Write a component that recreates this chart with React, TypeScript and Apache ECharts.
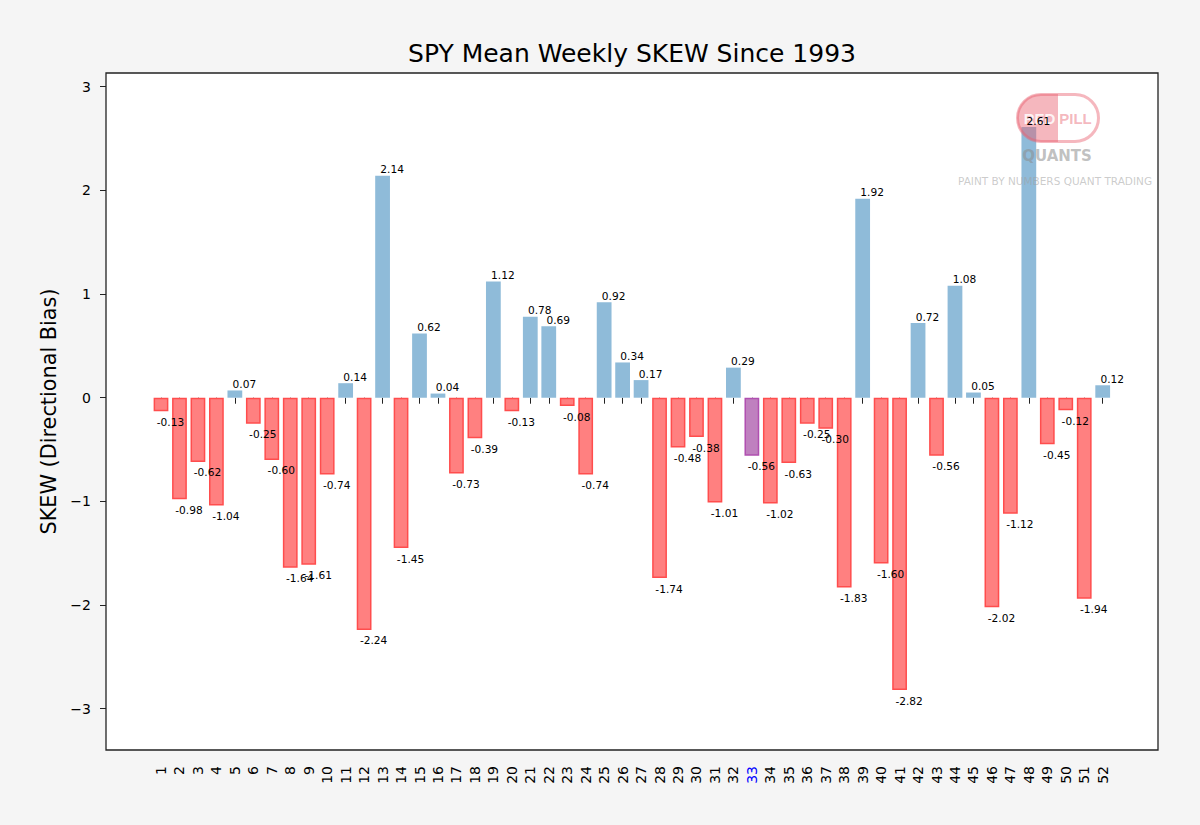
import React, { useEffect, useRef } from "react";
import * as echarts from "echarts";

const weeks = [
  "1", "2", "3", "4", "5", "6", "7", "8", "9", "10", "11", "12", "13",
  "14", "15", "16", "17", "18", "19", "20", "21", "22", "23", "24", "25", "26",
  "27", "28", "29", "30", "31", "32", "33", "34", "35", "36", "37", "38", "39",
  "40", "41", "42", "43", "44", "45", "46", "47", "48", "49", "50", "51", "52",
];
const skew = [
  -0.13, -0.98, -0.62, -1.04, 0.07, -0.25, -0.6, -1.64, -1.61, -0.74, 0.14, -2.24, 2.14,
  -1.45, 0.62, 0.04, -0.73, -0.39, 1.12, -0.13, 0.78, 0.69, -0.08, -0.74, 0.92, 0.34,
  0.17, -1.74, -0.48, -0.38, -1.01, 0.29, -0.56, -1.02, -0.63, -0.25, -0.3, -1.83, 1.92,
  -1.6, -2.82, 0.72, -0.56, 1.08, 0.05, -2.02, -1.12, 2.61, -0.45, -0.12, -1.94, 0.12,
];
const highlightWeek = "33";
const yTicks = [-3, -2, -1, 0, 1, 2, 3];
const yMin = -3.398;
const yMax = 3.132;

const FONT = "DejaVu Sans";

export default function App() {
  const ref = useRef<HTMLDivElement>(null);
  useEffect(() => {
    document.body.style.margin = "0";
    const chart = echarts.init(ref.current!, null, { renderer: "svg" });

    const barData = skew.map((v, i) => {
      const isHi = weeks[i] === highlightWeek;
      if (isHi) {
        return {
          value: v,
          itemStyle: { color: "#bf80bf", borderColor: "#b04fb0", borderWidth: 1.5 },
        };
      }
      if (v < 0) {
        return {
          value: v,
          itemStyle: { color: "#ff8080", borderColor: "#ff4d4d", borderWidth: 1.5 },
        };
      }
      return { value: v, itemStyle: { color: "#8fbbd9", borderWidth: 0 } };
    });

    const labelData = skew.map((v) => ({
      value: v,
      label: {
        position: v >= 0 ? "top" : "bottom",
        distance: v >= 0 ? 1 : 5,
      },
    }));

    const pink = "#e8606e";

    chart.setOption({
      animation: false,
      backgroundColor: "#f5f5f5",
      grid: { left: 151.77, right: 88.07, top: 73, bottom: 75 },
      xAxis: {
        type: "category",
        data: weeks.map((w) =>
          w === highlightWeek ? { value: w, textStyle: { color: "#0000ff" } } : w
        ),
        axisLine: { show: false },
        axisTick: {
          show: true,
          alignWithLabel: true,
          length: 6,
          lineStyle: { color: "#222", width: 1 },
        },
        axisLabel: {
          rotate: 90,
          fontSize: 14,
          color: "#000",
          margin: 16,
          fontFamily: FONT,
          interval: 0,
        },
        splitLine: { show: false },
      },
      yAxis: {
        type: "value",
        min: yMin,
        max: yMax,
        offset: 45.77,
        axisLine: { show: false },
        axisTick: {
          show: true,
          length: 6,
          customValues: yTicks,
          lineStyle: { color: "#222", width: 1 },
        },
        axisLabel: {
          customValues: yTicks,
          fontSize: 14,
          color: "#000",
          margin: 15,
          fontFamily: FONT,
          formatter: (v: number) => (v < 0 ? "\u2212" + Math.abs(v) : String(v)),
        },
        splitLine: { show: false },
        name: "SKEW (Directional Bias)",
        nameLocation: "middle",
        nameGap: 45,
        nameTextStyle: { fontSize: 20.8, color: "#000", fontFamily: FONT },
      },
      series: [
        {
          type: "bar",
          data: barData,
          barWidth: "80%",
          z: 2,
        },
        {
          type: "bar",
          data: labelData,
          barWidth: "80%",
          barGap: "-100%",
          z: 8,
          itemStyle: { color: "rgba(0,0,0,0)" },
          label: {
            show: true,
            color: "#000",
            fontSize: 10.6,
            fontFamily: FONT,
            offset: [9.5, 0],
            formatter: (p: any) => Number(p.value).toFixed(2),
          },
        },
      ],
      graphic: {
        elements: [
          {
            type: "rect",
            z: 0,
            silent: true,
            shape: { x: 106, y: 73, width: 1052, height: 677 },
            style: { fill: "#ffffff" },
          },
          {
            type: "rect",
            z: 10,
            silent: true,
            shape: { x: 106, y: 73, width: 1052, height: 677 },
            style: { fill: "none", stroke: "#222", lineWidth: 1.3 },
          },
          {
            type: "text",
            z: 10,
            x: 632,
            y: 53,
            style: {
              text: "SPY Mean Weekly SKEW Since 1993",
              fontSize: 25,
              fontFamily: FONT,
              fill: "#000",
              align: "center",
              verticalAlign: "middle",
            },
          },
          // logo watermark
          {
            type: "rect",
            z: 5,
            silent: true,
            shape: { x: 1017, y: 94, width: 41, height: 48, r: [24, 0, 0, 24] },
            style: { fill: pink, opacity: 0.45 },
          },
          {
            type: "rect",
            z: 5,
            silent: true,
            shape: { x: 1017.5, y: 94.5, width: 81, height: 47, r: 23.5 },
            style: { fill: "none", stroke: pink, lineWidth: 3, opacity: 0.45 },
          },
          {
            type: "text",
            z: 6,
            x: 1039.5,
            y: 118,
            style: {
              text: "RED",
              fontSize: 15,
              fontWeight: "bold",
              fontFamily: "Liberation Sans",
              fill: "#ffffff",
              opacity: 0.85,
              align: "center",
              verticalAlign: "middle",
            },
          },
          {
            type: "text",
            z: 6,
            x: 1075.5,
            y: 118,
            style: {
              text: "PILL",
              fontSize: 15,
              fontWeight: "bold",
              fontFamily: "Liberation Sans",
              fill: pink,
              opacity: 0.45,
              align: "center",
              verticalAlign: "middle",
            },
          },
          {
            type: "text",
            z: 6,
            x: 1057,
            y: 156,
            style: {
              text: "QUANTS",
              fontSize: 15,
              fontWeight: "bold",
              fontFamily: FONT,
              fill: "#8c8c8c",
              opacity: 0.55,
              align: "center",
              verticalAlign: "middle",
            },
          },
          {
            type: "text",
            z: 6,
            x: 1055,
            y: 181,
            style: {
              text: "PAINT BY NUMBERS QUANT TRADING",
              fontSize: 10.5,
              fontFamily: FONT,
              fill: "#a0a0a0",
              opacity: 0.55,
              align: "center",
              verticalAlign: "middle",
            },
          },
        ],
      },
    });
    return () => chart.dispose();
  }, []);
  return <div ref={ref} style={{ width: 1200, height: 825 }} />;
}
